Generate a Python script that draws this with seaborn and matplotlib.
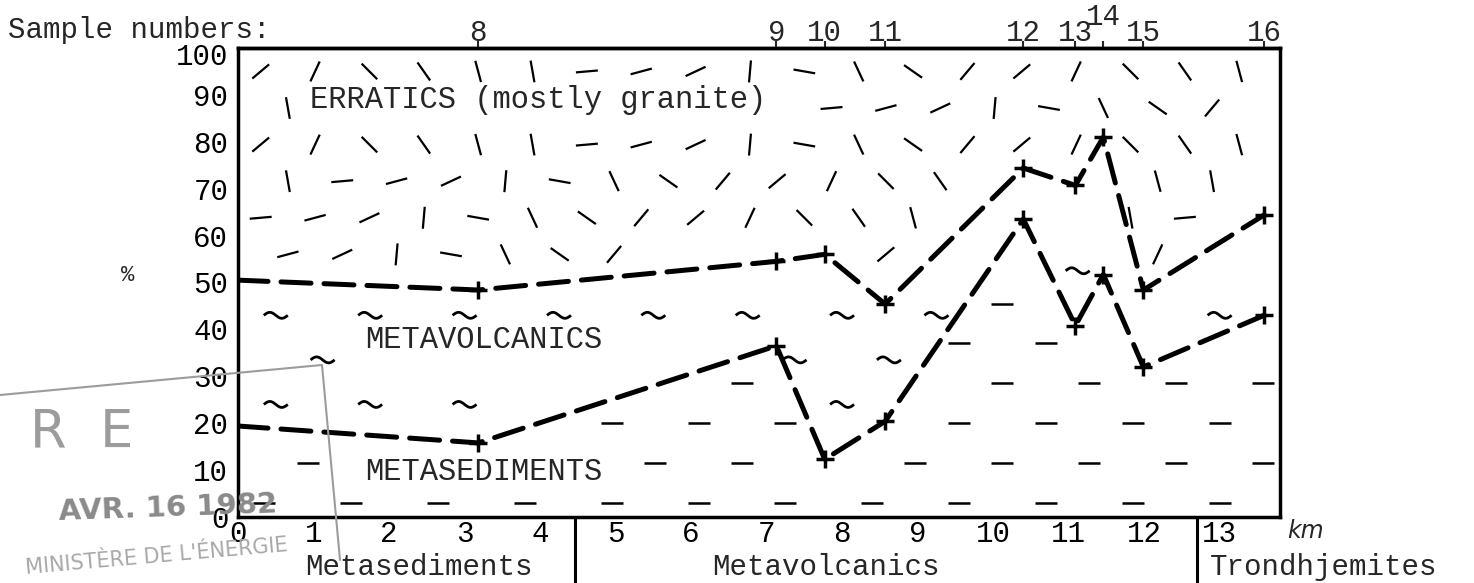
import numpy as np
import pandas as pd
import seaborn as sns
import matplotlib.pyplot as plt
from matplotlib.collections import LineCollection
from matplotlib.transforms import blended_transform_factory, ScaledTranslation

# distance along profile (km); the first point is the profile start at 0 km
dist_km = [0.0, 3.18, 7.13, 7.77, 8.57, 10.40, 11.09, 11.46, 11.99, 13.59]
sample_no = ['', '8', '9', '10', '11', '12', '13', '14', '15', '16']
# cumulative % boundaries
erratics_base = [50.5, 48.4, 54.5, 56.0, 45.4, 74.4, 70.7, 81.0, 48.4, 64.4]
sediments_top = [19.4, 15.8, 36.5, 12.3, 20.4, 63.5, 40.8, 51.7, 32.0, 43.0]

km_ticks = list(range(0, 14))
pct_ticks = list(range(0, 101, 10))
unit_bounds = [4.46, 12.70]
unit_names = ['Metasediments', 'Metavolcanics', 'Trondhjemites']
unit_left_km = [0.89, 6.28, 12.87]

X_MAX = 13.8
PX_KM = 1042 / X_MAX   # pixels per km in the output
PX_PCT = 469 / 100     # pixels per percent

sns.set_theme(style='white')
plt.rcParams['font.family'] = ['Liberation Mono', 'DejaVu Sans']

fig = plt.figure(figsize=(14.74, 5.83), dpi=100)
ax = fig.add_axes([0.1615, 0.1132, 0.7069, 0.8045])
ax.set_xlim(0, X_MAX)
ax.set_ylim(0, 100)

# region labels: (x, y, text), and the area the texture keeps clear of
labels = [(0.95, 89, 'ERRATICS (mostly granite)'),
          (1.68, 37.8, 'METAVOLCANICS'),
          (1.68, 9.6, 'METASEDIMENTS')]
CHAR_KM = 18.3 / PX_KM


def upper(x):
    return np.interp(x, dist_km, erratics_base)


def lower(x):
    return np.interp(x, dist_km, sediments_top)


def near_label(x, y):
    for lx, ly, t in labels:
        if lx - 0.2 < x < lx + len(t) * CHAR_KM + 0.2 and abs(y - ly) < 4.4:
            return True
    return False


# texture: erratics as short strokes in a staggered grid
angles = [40, -55, 5, 85, -35, 65, -75, 15, -10, 50, -45, 100, 25, -65]
segs = []
k = 0
for j, y in enumerate(np.arange(95, 0, -7.8)):
    for x in np.arange(0.3 + 0.36 * (j % 2), X_MAX - 0.2, 0.72):
        if y < upper(x) + 4 or near_label(x, y):
            continue
        a = np.deg2rad(angles[(k * 5) % len(angles)])
        k += 1
        hx = 11 / PX_KM * np.cos(a)
        hy = 11 / PX_PCT * np.sin(a)
        segs.append([(x - hx, y - hy), (x + hx, y + hy)])
ax.add_collection(LineCollection(segs, colors='black', linewidths=1.6, zorder=1))

# texture: metasediments as dashes
dash = []
for j, y in enumerate(np.arange(3, 70, 8.5)):
    for x in np.arange(0.35 + 0.57 * (j % 2), X_MAX - 0.2, 1.15):
        if y > lower(x) - 3.5 or near_label(x, y):
            continue
        h = 11 / PX_KM
        dash.append([(x - h, y), (x + h, y)])
ax.add_collection(LineCollection(dash, colors='black', linewidths=1.8, zorder=1))

# texture: metavolcanics as small waves
t = np.linspace(0, 2 * np.pi, 20)
waves = []
for j, y in enumerate(np.arange(5, 90, 9.5)):
    for x in np.arange(0.5 + 0.62 * (j % 2), X_MAX - 0.2, 1.25):
        if lower(x) + 4 < y < upper(x) - 4 and not near_label(x, y):
            wx = x + (t / np.pi - 1) * 12 / PX_KM
            wy = y + np.sin(t) * 3 / PX_PCT
            waves.append(np.column_stack([wx, wy]))
ax.add_collection(LineCollection(waves, colors='black', linewidths=2.0, zorder=1))

# boundary lines
df = pd.DataFrame({'km': dist_km, 'erratics': erratics_base,
                   'sediments': sediments_top, 'sample': sample_no})
long = df.melt(id_vars=['km', 'sample'], value_vars=['erratics', 'sediments'],
               var_name='boundary', value_name='pct')
sns.lineplot(data=long, x='km', y='pct', units='boundary', estimator=None,
             color='black', lw=3.6, sort=False, ax=ax, zorder=4)
for ln in ax.lines:
    ln.set_dashes([6, 2.6])
    ln.set_dash_capstyle('round')
pts = long[long['sample'] != '']
sns.scatterplot(data=pts, x='km', y='pct', marker='+', s=150, color='black',
                linewidth=2.5, ax=ax, zorder=5)

# axes styling
for sp in ax.spines.values():
    sp.set_color('black')
    sp.set_linewidth(2.5)
ax.set_xticks(km_ticks)
ax.set_yticks(pct_ticks)
ax.tick_params(axis='both', labelsize=21, colors='black', length=5, width=1.5, pad=2)
ax.tick_params(axis='x', direction='in')
ax.set_xlabel('')
ax.set_ylabel('')
fig.canvas.draw()
top_lab = ax.get_yticklabels()[-1]
top_lab.set_transform(top_lab.get_transform() + ScaledTranslation(0, -6 / 100, fig.dpi_scale_trans))

top = ax.secondary_xaxis('top')
top.set_xticks(dist_km[1:], labels=[''] * (len(dist_km) - 1))
top.tick_params(length=5, width=1.5, direction='out')
top.spines['top'].set_linewidth(2.5)

trans = blended_transform_factory(ax.transData, ax.transAxes)
for x, s in zip(dist_km, sample_no):
    if not s:
        continue
    yy = 1.066 if s == '14' else 1.032
    ax.text(x, yy, s, transform=trans, ha='center', va='center', fontsize=21)
fig.text(8 / 1474, 1 - 30 / 583, 'Sample numbers:', ha='left', va='center', fontsize=21)
ax.text(-0.106, 51.5, '%', transform=blended_transform_factory(ax.transAxes, ax.transData),
        ha='center', va='center', fontsize=16)
ax.text(13.9, -0.005, 'km', transform=trans, ha='left', va='top', fontsize=17,
        family='DejaVu Sans', style='italic', clip_on=False)

box = dict(fc='white', ec='none', pad=1)
for lx, ly, s in labels:
    ax.text(lx, ly, s, ha='left', va='center', fontsize=22, bbox=box, zorder=3)

# bedrock units below the axis
for b in unit_bounds:
    ax.plot([b, b], [0, -0.16], transform=trans, color='black', lw=2.2, clip_on=False)
for name, x in zip(unit_names, unit_left_km):
    ax.text(x, -0.107, name, transform=trans, ha='left', va='center', fontsize=21, clip_on=False)

# receipt stamp on the scan
grey = '#9c9c9c'
fig.add_artist(plt.Line2D([0, 322 / 1474, 340 / 1474], [1 - 395 / 583, 1 - 365 / 583, 1 - 560 / 583],
                          color=grey, lw=1.5))
fig.text(30 / 1474, 1 - 433 / 583, 'R  E', color=grey, fontsize=38, family='DejaVu Sans',
         ha='left', va='center')
fig.text(58 / 1474, 1 - 508 / 583, 'AVR. 16 1982', color='#8a8a8a', fontsize=21,
         family='DejaVu Sans', weight='bold', ha='left', va='center', rotation=2)
fig.text(25 / 1474, 1 - 557 / 583, "MINISTÈRE DE L'ÉNERGIE", color='#a8a8a8', fontsize=15,
         family='DejaVu Sans', ha='left', va='center', rotation=5)

fig.savefig('out.png', dpi=100)
